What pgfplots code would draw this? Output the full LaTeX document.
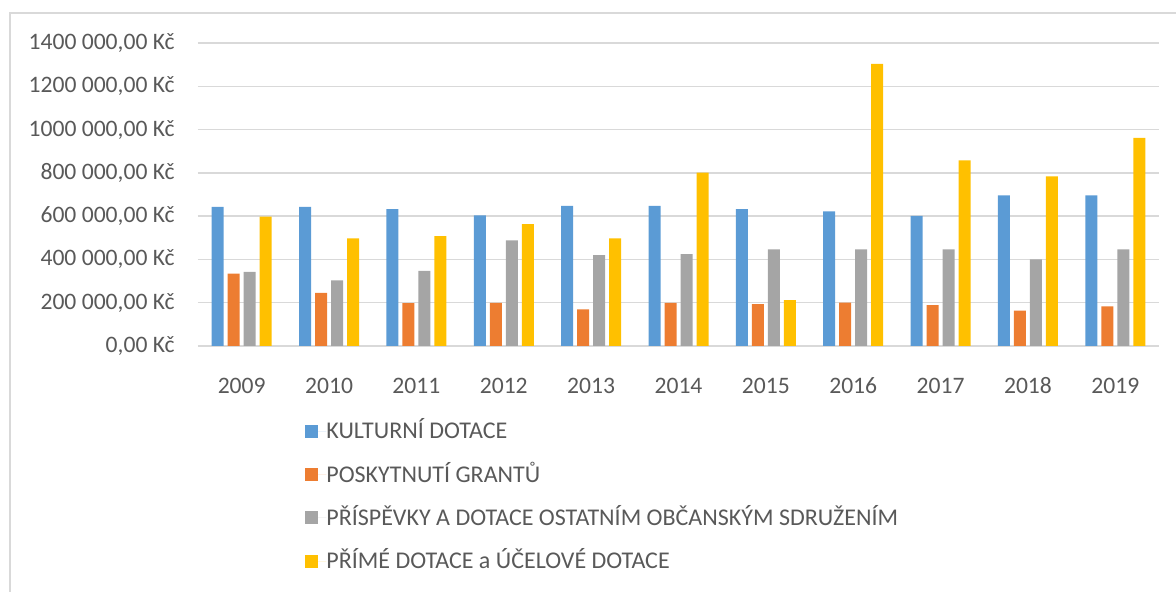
\documentclass[border=0pt]{standalone}
\usepackage{pgfplots}
\pgfplotsset{compat=1.18}
\usepackage{fontspec}
\setmainfont{Carlito}
\definecolor{cblue}{HTML}{5B9BD5}
\definecolor{corange}{HTML}{ED7D31}
\definecolor{cgray}{HTML}{A5A5A5}
\definecolor{cyellow}{HTML}{FFC000}
\definecolor{txtgray}{HTML}{595959}
\definecolor{gridgray}{HTML}{D9D9D9}
\begin{document}
\fontsize{12}{14}\selectfont
\begin{tikzpicture}
\begin{axis}[
    at={(0,0)}, anchor=south west,
    scale only axis,
    width=480.5pt, height=151.5pt,
    ybar=2pt, bar width=6pt,
    xmin=-0.5, xmax=10.5,
    ymin=0, ymax=1400000,
    xtick=data,
    xticklabels={2009,2010,2011,2012,2013,2014,2015,2016,2017,2018,2019},
    ytick={0,200000,400000,600000,800000,1000000,1200000,1400000},
    yticklabels={{0,00 Kč},{200 000,00 Kč},{400 000,00 Kč},{600 000,00 Kč},{800 000,00 Kč},{1000 000,00 Kč},{1200 000,00 Kč},{1400 000,00 Kč}},
    scaled y ticks=false,
    axis line style={draw=none},
    major tick style={draw=none},
    ymajorgrids,
    major grid style={color=gridgray, line width=0.75pt},
    tick label style={text=txtgray, font=\fontsize{11.8}{14}\selectfont},
    yticklabel style={anchor=east, inner sep=0pt, xshift=-11.5pt},
    xticklabel style={anchor=base, inner sep=0pt, yshift=-19.5pt},
    legend style={
        at={(0.1113,-0.2393)}, anchor=north west,
        draw=none, fill=none, inner sep=0pt,
        row sep=9.1pt,
        font=\fontsize{12}{14}\selectfont, text=txtgray,
        nodes={inner sep=0pt, text height=10pt, text depth=2.5pt},
        cells={anchor=west},
        legend columns=1,
    },
    legend image code/.code={\fill[#1] (0pt,-3.25pt) rectangle (6.5pt,3.25pt);
        \path (0pt,0pt) -- (10.5pt,0pt);},
]
\addplot[draw=none, fill=cblue] coordinates {
    (0,643000) (1,643000) (2,632000) (3,604000) (4,647000) (5,647000)
    (6,632000) (7,622000) (8,601000) (9,696000) (10,696000)
};
\addplot[draw=none, fill=corange] coordinates {
    (0,334000) (1,246000) (2,198000) (3,199000) (4,169000) (5,199000)
    (6,194000) (7,200000) (8,189000) (9,164000) (10,183000)
};
\addplot[draw=none, fill=cgray] coordinates {
    (0,343000) (1,303000) (2,347000) (3,488000) (4,420000) (5,424000)
    (6,446000) (7,446000) (8,447000) (9,400000) (10,447000)
};
\addplot[draw=none, fill=cyellow] coordinates {
    (0,598000) (1,497000) (2,508000) (3,563000) (4,497000) (5,801000)
    (6,212000) (7,1303000) (8,858000) (9,784000) (10,962000)
};
\legend{KULTURNÍ DOTACE, POSKYTNUTÍ GRANTŮ, PŘÍSPĚVKY A DOTACE OSTATNÍM OBČANSKÝM SDRUŽENÍM, PŘÍMÉ DOTACE a ÚČELOVÉ DOTACE}
\end{axis}
\draw[color=gridgray, line width=0.75pt] (-94pt,-140pt) rectangle (500pt,166.5pt);
\pgfresetboundingbox
\path[use as bounding box] (-99pt,-123pt) rectangle (489pt,173pt);
\end{tikzpicture}
\end{document}
